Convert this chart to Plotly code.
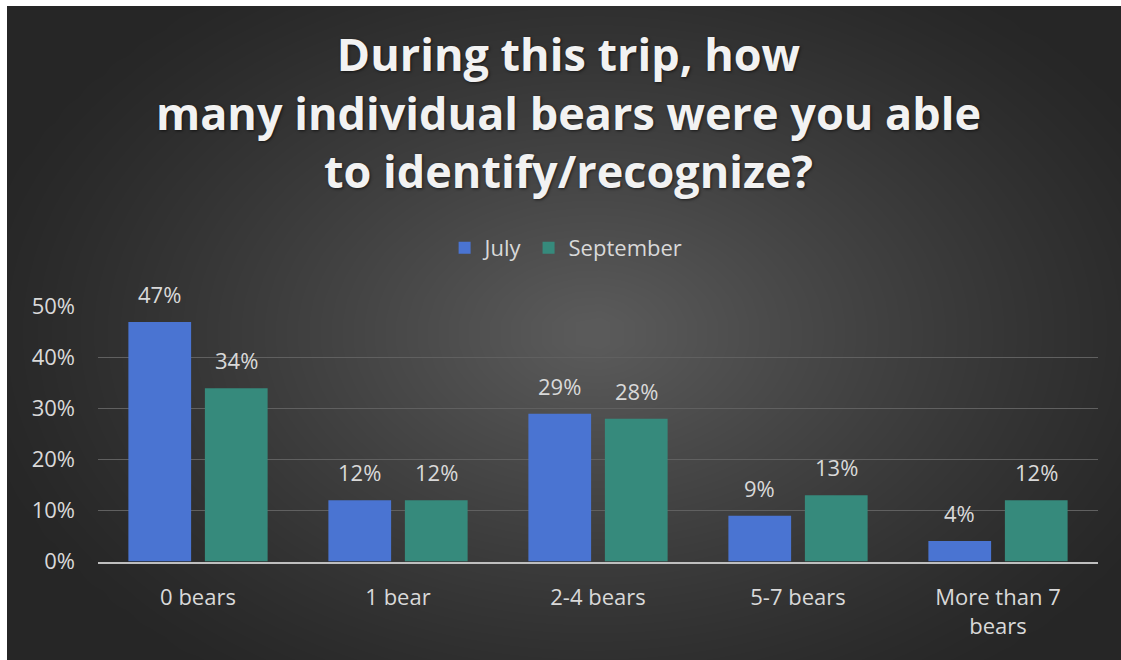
import numpy as np
import plotly.graph_objects as go

# Survey data
categories = ["0 bears", "1 bear", "2-4 bears", "5-7 bears", "More than 7<br>bears"]
july = [0.47, 0.12, 0.29, 0.09, 0.04]
september = [0.34, 0.12, 0.28, 0.13, 0.12]
series_names = ["July", "September"]
y_ticks = [0, 0.1, 0.2, 0.3, 0.4, 0.5]

W, H = 1121, 660
BLUE = "#4a74d2"
TEAL = "#368a7c"
TEXT = "#d9d9d9"
FONT = "Open Sans"

BARGAP = 0.235
GROUPGAP = 0.18

fig = go.Figure()

# Radial dark-grey backdrop filling the chart area
gx = np.linspace(0, W, 48)
gy = np.linspace(0, H, 30)
X, Y = np.meshgrid(gx, gy)
d = np.sqrt(((X - 590) / 640) ** 2 + ((Y - 330) / 430) ** 2)
shade = np.clip(1 - d, 0, 1) ** 1.2
fig.add_trace(go.Heatmap(
    x=gx, y=gy, z=shade, zmin=0, zmax=1, zsmooth="best",
    colorscale=[[0, "#262626"], [1, "#5c5c5c"]],
    showscale=False, hoverinfo="skip", xaxis="x", yaxis="y",
))

x_idx = list(range(len(categories)))
for name, vals, col in [(series_names[0], july, BLUE), (series_names[1], september, TEAL)]:
    fig.add_trace(go.Bar(
        name=name, x=x_idx, y=vals, marker=dict(color=col, line=dict(width=0)),
        xaxis="x2", yaxis="y2", hoverinfo="skip",
    ))

# Value labels above each bar
slot = (1 - BARGAP) / 2
annotations = []
for k, vals in enumerate([july, september]):
    off = (k - 0.5) * slot
    for i, v in enumerate(vals):
        annotations.append(dict(
            x=i + off, y=v, xref="x2", yref="y2", text=f"{round(v * 100)}%",
            showarrow=False, yanchor="bottom", yshift=11,
            font=dict(family=FONT, size=22, color=TEXT),
        ))

# Chart title
annotations.append(dict(
    x=0.507, y=1 - 21 / H, xref="paper", yref="paper", xanchor="center", yanchor="top",
    text="During this trip, how<br>many individual bears were you able<br>to identify/recognize?",
    showarrow=False, align="center",
    font=dict(family=FONT, size=45, color="#f2f2f2", weight="bold",
              shadow="1px 1px 3px rgba(0,0,0,0.6)"),
))

fig.update_layout(
    width=W, height=H,
    margin=dict(l=0, r=0, t=0, b=0, autoexpand=False),
    paper_bgcolor="white", plot_bgcolor="rgba(0,0,0,0)",
    barmode="group", bargap=BARGAP, bargroupgap=GROUPGAP,
    annotations=annotations,
    shapes=[dict(type="rect", xref="paper", yref="paper", x0=7 / W, x1=1, y0=0, y1=1 - 6 / H,
                 fillcolor="#2a2a2a", line=dict(width=0), layer="below")],
    showlegend=True,
    legend=dict(
        orientation="h", x=0.505, xanchor="center", y=1 - 248 / H, yanchor="middle",
        font=dict(family=FONT, size=22, color=TEXT), bgcolor="rgba(0,0,0,0)",
        itemwidth=30, traceorder="normal",
    ),
    xaxis=dict(domain=[7 / W, 1], range=[0, W], autorange=False, visible=False,
               fixedrange=True, automargin=False),
    yaxis=dict(domain=[0, 1 - 6 / H], range=[H, 0], autorange=False, visible=False,
               automargin=False),
    xaxis2=dict(
        domain=[98 / W, 1098 / W], anchor="y2", range=[-0.5, len(categories) - 0.5],
        tickmode="array", tickvals=x_idx, ticktext=categories, automargin=False,
        showgrid=False, showline=True, linecolor="#bfbfbf", linewidth=2,
        ticks="", ticklabelstandoff=15,
        tickfont=dict(family=FONT, size=22, color=TEXT), zeroline=False,
    ),
    yaxis2=dict(
        domain=[(H - 561.5) / H, (H - 306.7) / H], anchor="x2", range=[0, 0.5],
        tickmode="array", tickvals=y_ticks, tickformat=".0%", automargin=False,
        showgrid=True, gridcolor="#606060", gridwidth=1, zeroline=False,
        showline=False, ticks="", ticklabelstandoff=22,
        tickfont=dict(family=FONT, size=22, color=TEXT),
    ),
)

fig.write_html("out.html")
